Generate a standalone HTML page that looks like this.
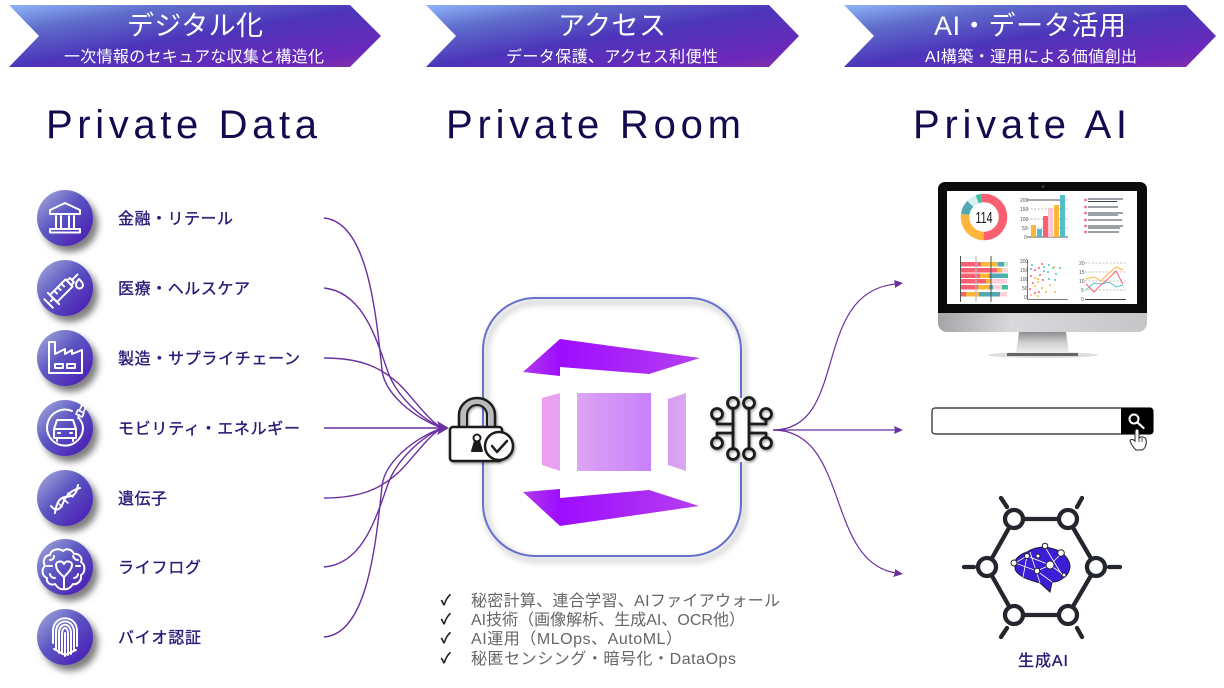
<!DOCTYPE html>
<html lang="ja">
<head>
<meta charset="utf-8">
<title>Private Data / Private Room / Private AI</title>
<style>
html,body{margin:0;padding:0;background:#fff;width:1224px;height:688px;overflow:hidden}
svg{display:block}
text{font-family:"Liberation Sans","Noto Sans CJK JP",sans-serif}
.h{font-size:27px;fill:#fff;text-anchor:middle}
.s{font-size:16px;fill:#fff;text-anchor:middle}
.t{font-size:40px;fill:#130a4f}
.l{font-size:16px;fill:#2a1a78;stroke:#2a1a78;stroke-width:.35}
.c{font-size:16px;fill:#666}
.k{font-size:14px;fill:#222;stroke:#222;stroke-width:.6}
.i{fill:none;stroke:#fff;stroke-width:2;stroke-linecap:round;stroke-linejoin:round}
.a{font-size:5px;fill:#555}
</style>
</head>
<body>
<svg width="1224" height="688" viewBox="0 0 1224 688" xmlns="http://www.w3.org/2000/svg">
<defs>
<linearGradient id="chev" x1="0" y1="0" x2="1" y2="1">
<stop offset="0" stop-color="#8fb6fa"/><stop offset=".22" stop-color="#5f6dcb"/><stop offset=".5" stop-color="#4c35ba"/><stop offset=".85" stop-color="#6c28bb"/><stop offset="1" stop-color="#8531a4"/>
</linearGradient>
<linearGradient id="ball" x1="0" y1="0" x2="1" y2="1">
<stop offset="0" stop-color="#a9b0dd"/><stop offset=".45" stop-color="#5b56c2"/><stop offset=".8" stop-color="#4f2bb8"/><stop offset="1" stop-color="#42209c"/>
</linearGradient>
<linearGradient id="pur" x1="0" y1="0" x2="1" y2="0">
<stop offset="0" stop-color="#b13be8"/><stop offset=".21" stop-color="#9d0cff"/><stop offset="1" stop-color="#b540f0"/>
</linearGradient>
<linearGradient id="pink" x1="0" y1="0" x2="1" y2="0">
<stop offset="0" stop-color="#f0a0f0"/><stop offset="1" stop-color="#e6a0f4"/>
</linearGradient>
<linearGradient id="mid" x1="0" y1="0" x2="1" y2="0">
<stop offset="0" stop-color="#dca4f4"/><stop offset="1" stop-color="#c880fb"/>
</linearGradient>
<linearGradient id="pinkr" x1="0" y1="0" x2="1" y2="0">
<stop offset="0" stop-color="#d8a0f0"/><stop offset="1" stop-color="#dca8f0"/>
</linearGradient>
<linearGradient id="silver" x1="0" y1="0" x2="1" y2="0">
<stop offset="0" stop-color="#a5a5a8"/><stop offset=".35" stop-color="#d9d9db"/><stop offset="1" stop-color="#c6c6c8"/>
</linearGradient>
<linearGradient id="stand" x1="0" y1="0" x2="0" y2="1">
<stop offset="0" stop-color="#8e8e90"/><stop offset=".5" stop-color="#cfcfd1"/><stop offset="1" stop-color="#efeff0"/>
</linearGradient>
<filter id="sh" x="-30%" y="-30%" width="180%" height="180%"><feDropShadow dx="5" dy="6" stdDeviation="3.5" flood-color="#000" flood-opacity=".5"/></filter>
<filter id="shr" x="-10%" y="-10%" width="125%" height="125%"><feDropShadow dx="3" dy="4" stdDeviation="3.5" flood-color="#000" flood-opacity=".45"/></filter>
<filter id="shi" x="-20%" y="-20%" width="140%" height="140%"><feDropShadow dx="1" dy="1.5" stdDeviation="1.2" flood-color="#000" flood-opacity=".4"/></filter>
</defs>

<!-- chevrons -->
<polygon points="9,5 350,5 381,36 350,67 9,67 39,36" fill="url(#chev)"/>
<polygon points="426,5 769,5 799,36 769,67 426,67 456,36" fill="url(#chev)"/>
<polygon points="844,5 1186,5 1216,36 1186,67 844,67 874,36" fill="url(#chev)"/>
<text class="h" x="195" y="35" textLength="136">デジタル化</text>
<text class="s" x="194" y="62" textLength="260">一次情報のセキュアな収集と構造化</text>
<text class="h" x="612" y="35" textLength="108">アクセス</text>
<text class="s" x="612" y="62" textLength="212">データ保護、アクセス利便性</text>
<text class="h" x="1030" y="35" textLength="192">AI・データ活用</text>
<text class="s" x="1031" y="62" textLength="212">AI構築・運用による価値創出</text>

<!-- titles -->
<text class="t" x="46" y="138" textLength="271">Private Data</text>
<text class="t" x="446" y="138" textLength="295">Private Room</text>
<text class="t" x="913" y="138" textLength="214">Private AI</text>

<!-- left connectors -->
<g fill="none" stroke="#6a2fa0" stroke-width="1.400">
<path d="M324 218C365 222 375 300 382 370C385 395 415 418 442 428"/>
<path d="M324 288C362 292 375 335 388 372C396 395 420 418 442 428"/>
<path d="M324 358C362 358 382 368 400 385C414 399 428 420 442 428"/>
<path d="M324 428H442"/>
<path d="M324 498C362 498 382 488 400 471C414 457 428 436 442 428"/>
<path d="M324 567C362 564 375 521 388 484C396 461 420 438 442 428"/>
<path d="M324 637C365 634 375 556 382 486C385 461 415 438 442 428"/>
</g>
<polygon points="449,428 437,421 440,428 437,435" fill="#6a2fa0"/>

<!-- private room -->
<rect x="483" y="298" width="258" height="258" rx="52" fill="none" stroke="#6670cc" stroke-width="2" filter="url(#shr)"/>
<polygon points="560,339 700,358 649,374 560,367 560,376 523,372" fill="url(#pur)"/>
<polygon points="523,492 560,489 560,498 649,490 699,506 560,526" fill="url(#pur)"/>
<polygon points="542,398 560,393 560,471 542,465" fill="url(#pink)"/>
<rect x="577" y="393" width="74" height="78" fill="url(#mid)"/>
<polygon points="668,399 686,393 686,471 668,465" fill="url(#pinkr)"/>

<!-- lock -->
<g filter="url(#shi)" fill="none" stroke="#1a1a1a" stroke-linecap="round" stroke-linejoin="round">
<path d="M463 427V415a14 14 0 0 1 28 0V427" stroke="#bbb" stroke-width="7"/>
<path d="M459 427V415a18 17 0 0 1 36 0V427" stroke-width="2.500"/>
<path d="M467 427V415a10 10 0 0 1 20 0V427" stroke-width="2"/>
<rect x="450" y="427" width="52" height="34" rx="3" fill="#fff" stroke-width="2.500"/>
<circle cx="477" cy="438" r="3.500" stroke-width="2"/>
<path d="M475 441L472 451H482L479 441" fill="#1a1a1a" stroke-width="2"/>
<circle cx="499" cy="446" r="14" fill="#fff" stroke-width="2.500"/>
<path d="M492 446L497 452L507 441" stroke-width="2.500"/>
</g>

<!-- circuit -->
<rect x="722" y="398" width="38" height="64" fill="#fff"/>
<g filter="url(#shi)" fill="none" stroke="#1a1a1a" stroke-width="2.800" stroke-linecap="round" stroke-linejoin="round">
<path d="M733 408V449M749 408V449"/>
<path d="M717 419V424H733M766 419V424H749"/>
<path d="M717 438V433H733M766 438V433H749"/>
<circle cx="733" cy="403" r="5.500"/><circle cx="749" cy="403" r="5.500"/>
<circle cx="717" cy="414" r="5.500"/><circle cx="766" cy="414" r="5.500"/>
<circle cx="717" cy="443" r="5.500"/><circle cx="766" cy="443" r="5.500"/>
<circle cx="733" cy="454" r="5.500"/><circle cx="749" cy="454" r="5.500"/>
</g>

<!-- right connectors -->
<g fill="none" stroke="#6a2fa0" stroke-width="1.200">
<path d="M773 430C850 430 810 292 896 284"/>
<path d="M773 430H896"/>
<path d="M773 430C850 430 825 562 896 573"/>
</g>
<g fill="#6a2fa0">
<polygon points="903,283 894,280 895,284 895,288"/>
<polygon points="903,430 894,426 895,430 894,434"/>
<polygon points="903,574 895,569 895,573 893,577"/>
</g>

<!-- check list -->
<text class="k" x="441" y="605">✓</text>
<text class="k" x="441" y="624">✓</text>
<text class="k" x="441" y="643">✓</text>
<text class="k" x="441" y="663">✓</text>
<text class="c" x="471" y="606" textLength="309">秘密計算、連合学習、AIファイアウォール</text>
<text class="c" x="471" y="625" textLength="274">AI技術（画像解析、生成AI、OCR他）</text>
<text class="c" x="471" y="644" textLength="211">AI運用（MLOps、AutoML）</text>
<text class="c" x="471" y="664" textLength="265">秘匿センシング・暗号化・DataOps</text>

<!-- left items -->
<g filter="url(#sh)">
<circle cx="65" cy="218" r="28" fill="url(#ball)"/>
<circle cx="65" cy="288" r="28" fill="url(#ball)"/>
<circle cx="65" cy="358" r="28" fill="url(#ball)"/>
<circle cx="65" cy="428" r="28" fill="url(#ball)"/>
<circle cx="65" cy="498" r="28" fill="url(#ball)"/>
<circle cx="65" cy="567" r="28" fill="url(#ball)"/>
<circle cx="65" cy="637" r="28" fill="url(#ball)"/>
</g>
<!-- bank -->
<g class="i">
<path d="M65 203L50 210V214H80V210Z"/>
<path d="M56 216V228M61 216V228M69 216V228M74 216V228"/>
<rect x="50" y="229" width="30" height="3.500"/>
</g>
<!-- syringe -->
<g class="i" transform="rotate(-45 62 290)">
<rect x="50" y="285" width="22" height="10"/>
<path d="M50 282V298M46 290H50M43 284V296M72 287H76V293H72M76 290H84M56 285V289M61 285V289M66 285V289"/>
</g>
<path d="M79 279C81 281 83 283 83 285A3.500 3.500 0 0 1 76 285C76 283 77 281 79 279Z" class="i"/>
<!-- factory -->
<g class="i">
<path d="M49 342H55V354L65 349V354L72 350V354L82 350V373H49Z"/>
<rect x="55" y="364" width="8" height="4"/><rect x="67" y="364" width="8" height="4"/>
</g>
<!-- mobility -->
<g class="i">
<path d="M72 411A18 18 0 1 0 83 428C83 424 81 421 79 418"/>
<path d="M54 429L57 420H73L76 429V438H54ZM54 429H76M57 438V441M73 438V441M58 433H60M70 433H72"/>
<path d="M76 414L82 417L84 413L78 410ZM80 409L82 405M84 411L86 407M79 415L78 418" stroke-width="1.800"/>
</g>
<!-- dna -->
<g class="i" stroke-width="2.800">
<path d="M51 506C56 512 60 510 63 503C66 495 72 490 80 488"/>
<path d="M55 513C56 506 58 498 65 497C72 496 76 497 78 485"/>
<path d="M58 503L62 507M62 498L68 503M68 493L73 497" stroke-width="1.500"/>
</g>
<!-- brain heart -->
<g class="i">
<path d="M64 583V589C60 590 57 587 55 584C50 586 46 582 47 578C42 576 41 569 45 566C42 561 45 555 50 555C51 549 59 548 63 551C66 548 72 549 74 554C79 553 83 558 81 562C86 565 85 573 81 575C82 581 77 585 73 584C71 587 68 590 64 589"/>
<path d="M64 577C57 571 56 568 56 565C56 561 62 560 64 564C66 560 72 561 72 565C72 568 70 571 64 577Z"/>
<path d="M64 577V585M55 578C52 578 50 576 50 574M74 578C76 578 78 576 78 574M47 566H52M80 566H76M54 556C54 559 52 560 50 560M73 556C74 559 76 560 78 560"/>
</g>
<!-- fingerprint -->
<g class="i" stroke-width="1.600">
<path d="M53 643V631C53 614 77 614 77 631V646"/>
<path d="M56 649V632C56 618 74 618 74 632V650"/>
<path d="M59 653V633C59 622 71 622 71 633V654"/>
<path d="M62 654V634C62 626 68 626 68 634V655"/>
<path d="M65 656V633"/>
<path d="M54 649L65 655L76 650"/>
</g>
<text class="l" x="118" y="224" textLength="115">金融・リテール</text>
<text class="l" x="118" y="294" textLength="132">医療・ヘルスケア</text>
<text class="l" x="118" y="364" textLength="182">製造・サプライチェーン</text>
<text class="l" x="118" y="434" textLength="182">モビリティ・エネルギー</text>
<text class="l" x="118" y="504" textLength="49">遺伝子</text>
<text class="l" x="118" y="573" textLength="83">ライフログ</text>
<text class="l" x="118" y="643" textLength="83">バイオ認証</text>

<!-- monitor -->
<ellipse cx="1043" cy="355" rx="55" ry="3" fill="#ddd"/>
<polygon points="1019,332 1066,332 1069,353 1016,353" fill="url(#stand)"/>
<rect x="1007" y="353" width="71" height="3" fill="#666"/>
<path d="M938 313H1147V323a9 9 0 0 1-9 9H947a9 9 0 0 1-9-9Z" fill="url(#silver)"/>
<path d="M945 182H1140a7 7 0 0 1 7 7V313H938V189a7 7 0 0 1 7-7Z" fill="#0b0b0b"/>
<rect x="947" y="191" width="190" height="113" fill="#fff"/>
<circle cx="1043" cy="186.500" r="1.300" fill="#444"/>
<!-- donut -->
<g fill="none" stroke-width="8.500" transform="rotate(-5 984 217)">
<circle cx="984" cy="217" r="19" pathLength="100" stroke="#fb6072" stroke-dasharray="52 48" transform="rotate(-90 984 217)"/>
<circle cx="984" cy="217" r="19" pathLength="100" stroke="#fdb53c" stroke-dasharray="27 73" stroke-dashoffset="-52" transform="rotate(-90 984 217)"/>
<circle cx="984" cy="217" r="19" pathLength="100" stroke="#52a8b4" stroke-dasharray="10 90" stroke-dashoffset="-79" transform="rotate(-90 984 217)"/>
<circle cx="984" cy="217" r="19" pathLength="100" stroke="#d5f0f3" stroke-dasharray="7 93" stroke-dashoffset="-89" transform="rotate(-90 984 217)"/>
<circle cx="984" cy="217" r="19" pathLength="100" stroke="#3fbf9b" stroke-dasharray="4 96" stroke-dashoffset="-96" transform="rotate(-90 984 217)"/>
</g>
<text x="984" y="223" text-anchor="middle" font-size="16" fill="#111" textLength="17" lengthAdjust="spacingAndGlyphs">114</text>
<!-- bar chart -->
<g stroke="#777" stroke-width=".6">
<path d="M1027 200H1068M1027 209H1068M1027 219H1068M1027 228H1068" stroke-dasharray="2 1.500"/>
<path d="M1027 237H1068" stroke-width="1.200"/>
</g>
<path d="M1027 200H1060" stroke="#555" stroke-width="1"/>
<g>
<rect x="1031" y="225" width="5" height="12" fill="#fdb53c"/>
<rect x="1037" y="229" width="5" height="8" fill="#52bfc8"/>
<rect x="1043" y="216" width="5" height="21" fill="#fb6072"/>
<rect x="1048" y="208" width="5" height="29" fill="#fdc7d2"/>
<rect x="1054" y="205" width="5" height="32" fill="#fdb53c"/>
<rect x="1060" y="195" width="5" height="42" fill="#52bfc8"/>
</g>
<text class="a" x="1020" y="202">200</text><text class="a" x="1020" y="211">150</text><text class="a" x="1020" y="221">100</text><text class="a" x="1022" y="230">50</text><text class="a" x="1024" y="239">0</text>
<!-- list -->
<g fill="#e8709a">
<circle cx="1085.500" cy="200" r="1.400"/><circle cx="1085.500" cy="207" r="1.400"/><circle cx="1085.500" cy="213" r="1.400"/><circle cx="1085.500" cy="220" r="1.400"/><circle cx="1085.500" cy="226" r="1.400"/><circle cx="1085.500" cy="232" r="1.400"/>
</g>
<g stroke="#3a4350" stroke-width="1">
<path d="M1088 199H1123M1088 201.500H1117M1088 207H1118M1088 213H1123M1088 215H1118"/>
<path d="M1088 220H1122M1088 226H1123M1088 228H1120M1088 232H1119"/>
</g>
<!-- stacked bars -->
<g>
<rect x="960" y="262" width="21" height="4.500" fill="#fb6072"/><rect x="981" y="262" width="17" height="4.500" fill="#fdb53c"/><rect x="998" y="262" width="6" height="4.500" fill="#52a8b4"/><rect x="1004" y="262" width="4" height="4.500" fill="#bfe8d8"/>
<rect x="960" y="268" width="37" height="4.500" fill="#fb6072"/><rect x="997" y="268" width="5" height="4.500" fill="#fdb53c"/><rect x="1002" y="268" width="6" height="4.500" fill="#fdd0da"/>
<rect x="960" y="273.500" width="20" height="4.500" fill="#fb6072"/><rect x="980" y="273.500" width="9" height="4.500" fill="#fdb53c"/><rect x="989" y="273.500" width="15" height="4.500" fill="#52a8b4"/><rect x="1004" y="273.500" width="4" height="4.500" fill="#3fbf9b"/>
<rect x="960" y="279" width="26" height="4.500" fill="#fb6072"/><rect x="986" y="279" width="5" height="4.500" fill="#fdb53c"/><rect x="991" y="279" width="16" height="4.500" fill="#fdd0da"/>
<rect x="960" y="285" width="18" height="4.500" fill="#fb6072"/><rect x="978" y="285" width="11" height="4.500" fill="#fdb53c"/><rect x="989" y="285" width="4" height="4.500" fill="#52a8b4"/><rect x="993" y="285" width="9" height="4.500" fill="#fdd0da"/><rect x="1002" y="285" width="6" height="4.500" fill="#3fbf9b"/>
<rect x="960" y="292" width="6" height="4.500" fill="#fb6072"/><rect x="966" y="292" width="13" height="4.500" fill="#fdb53c"/><rect x="979" y="292" width="21" height="4.500" fill="#52a8b4"/><rect x="1000" y="292" width="7" height="4.500" fill="#fdd0da"/>
</g>
<path d="M960.500 256V302M991 256V302" stroke="#555" stroke-width="1"/>
<path d="M976 256V302" stroke="#bbb" stroke-width="1.200"/>
<!-- scatter -->
<path d="M1027.500 260V299.500H1068" fill="none" stroke="#555" stroke-width=".8"/>
<text class="a" x="1020" y="263">200</text><text class="a" x="1020" y="272">150</text><text class="a" x="1020" y="281">100</text><text class="a" x="1022" y="290">50</text><text class="a" x="1024" y="299">0</text>
<g fill="#fb6072">
<circle cx="1042" cy="264" r="1"/><circle cx="1039" cy="268" r="1"/><circle cx="1035" cy="270" r="1"/><circle cx="1031" cy="276" r="1"/><circle cx="1040" cy="275" r="1"/><circle cx="1033" cy="283" r="1"/><circle cx="1043" cy="280" r="1"/><circle cx="1030" cy="289" r="1"/><circle cx="1035" cy="293" r="1"/><circle cx="1039" cy="292" r="1"/>
</g>
<g fill="#52bfc8">
<circle cx="1032" cy="265" r="1"/><circle cx="1031" cy="269" r="1"/><circle cx="1044" cy="267" r="1"/><circle cx="1049" cy="265" r="1"/><circle cx="1053" cy="268" r="1"/><circle cx="1060" cy="268" r="1"/><circle cx="1044" cy="271" r="1"/><circle cx="1048" cy="272" r="1"/><circle cx="1056" cy="274" r="1"/><circle cx="1049" cy="279" r="1"/><circle cx="1055" cy="280" r="1"/>
</g>
<g fill="#fdb53c">
<circle cx="1054" cy="267" r="1"/><circle cx="1035" cy="278" r="1"/><circle cx="1038" cy="279" r="1"/><circle cx="1038" cy="282" r="1"/><circle cx="1035" cy="286" r="1"/><circle cx="1042" cy="288" r="1"/><circle cx="1050" cy="285" r="1"/><circle cx="1031" cy="295" r="1"/><circle cx="1038" cy="296" r="1"/><circle cx="1046" cy="292" r="1"/><circle cx="1055" cy="292" r="1"/>
</g>
<!-- line chart -->
<g stroke="#888" stroke-width=".6" stroke-dasharray="2 1.500">
<path d="M1085 263H1126M1085 272H1126M1085 281H1126M1085 290H1126"/>
</g>
<path d="M1085 299.500H1126" stroke="#444" stroke-width="1"/>
<text class="a" x="1079" y="265">20</text><text class="a" x="1079" y="274">15</text><text class="a" x="1079" y="283">10</text><text class="a" x="1081" y="292">5</text><text class="a" x="1081" y="301">0</text>
<g fill="none" stroke-width="1">
<polyline points="1086,279 1094,277 1101,281 1109,273 1116,267 1123,270" stroke="#fdb53c"/>
<polyline points="1086,290 1094,283 1101,284 1109,282 1116,287 1123,285" stroke="#52bfc8"/>
<polyline points="1086,284 1094,292 1101,285 1109,278 1116,271 1123,284" stroke="#fb6072"/>
</g>

<!-- search box -->
<rect x="932" y="408" width="221" height="26" rx="3" fill="#fff" stroke="#222" stroke-width="1.200"/>
<path d="M1121 408H1150a3 3 0 0 1 3 3V431a3 3 0 0 1-3 3H1121Z" fill="#000"/>
<circle cx="1134" cy="419" r="4.500" fill="none" stroke="#fff" stroke-width="2"/>
<path d="M1137.500 422.500L1143.500 428" stroke="#fff" stroke-width="2.200" stroke-linecap="round"/>
<path d="M1135 432C1135 428 1139 428 1139 432V438C1141 436 1146 437 1146 440C1147 444 1145 449 1142 450H1136C1134 448 1131 444 1130 441C1130 439 1133 439 1135 441Z" fill="#fff" stroke="#222" stroke-width="1"/>
<path d="M1139 438V442M1142 438V442" stroke="#222" stroke-width=".8"/>

<!-- hexagon -->
<g fill="none" stroke="#23262c" stroke-width="4.300" stroke-linecap="round">
<polygon points="1014,519 1068,519 1096,567 1068,615 1014,615 987,567"/>
<path d="M1001 498L1007 507M1082 498L1077 507M964 567H974M1109 567H1120M1007 628L1001 637M1077 628L1082 637"/>
<g fill="#fff">
<circle cx="1014" cy="519" r="9"/><circle cx="1068" cy="519" r="9"/><circle cx="1096" cy="567" r="9"/><circle cx="1068" cy="615" r="9"/><circle cx="1014" cy="615" r="9"/><circle cx="987" cy="567" r="9"/>
</g>
</g>
<!-- brain -->
<path d="M1015 561C1018 555 1024 553 1027 552C1033 548 1040 547 1045 547C1052 548 1058 550 1062 553C1067 557 1070 562 1070 567C1069 573 1066 577 1063 578C1060 581 1056 582 1052 582L1050 592L1040 583C1034 581 1028 580 1023 577C1018 574 1015 571 1015 568Z" fill="#3a1fd6" stroke="#1a1a30" stroke-width="1"/>
<g stroke="#fff" stroke-width=".8" fill="none">
<path d="M1015 563L1027 556L1050 565L1062 553M1027 556L1023 577M1050 565L1037 571L1052 582M1037 571L1015 563M1045 547L1062 575M1050 565L1064 575M1030 552L1040 583"/>
</g>
<g fill="#fff" stroke="#222" stroke-width="1">
<circle cx="1014" cy="563" r="3"/><circle cx="1027" cy="556" r="2.500"/><circle cx="1045" cy="546" r="2.800"/><circle cx="1061" cy="553" r="3.300"/><circle cx="1038" cy="556" r="2"/><circle cx="1050" cy="565" r="4"/><circle cx="1037" cy="571" r="2.800"/><circle cx="1064" cy="575" r="2"/>
</g>
<text class="l" x="1018" y="666" textLength="50">生成AI</text>
</svg>
</body>
</html>
